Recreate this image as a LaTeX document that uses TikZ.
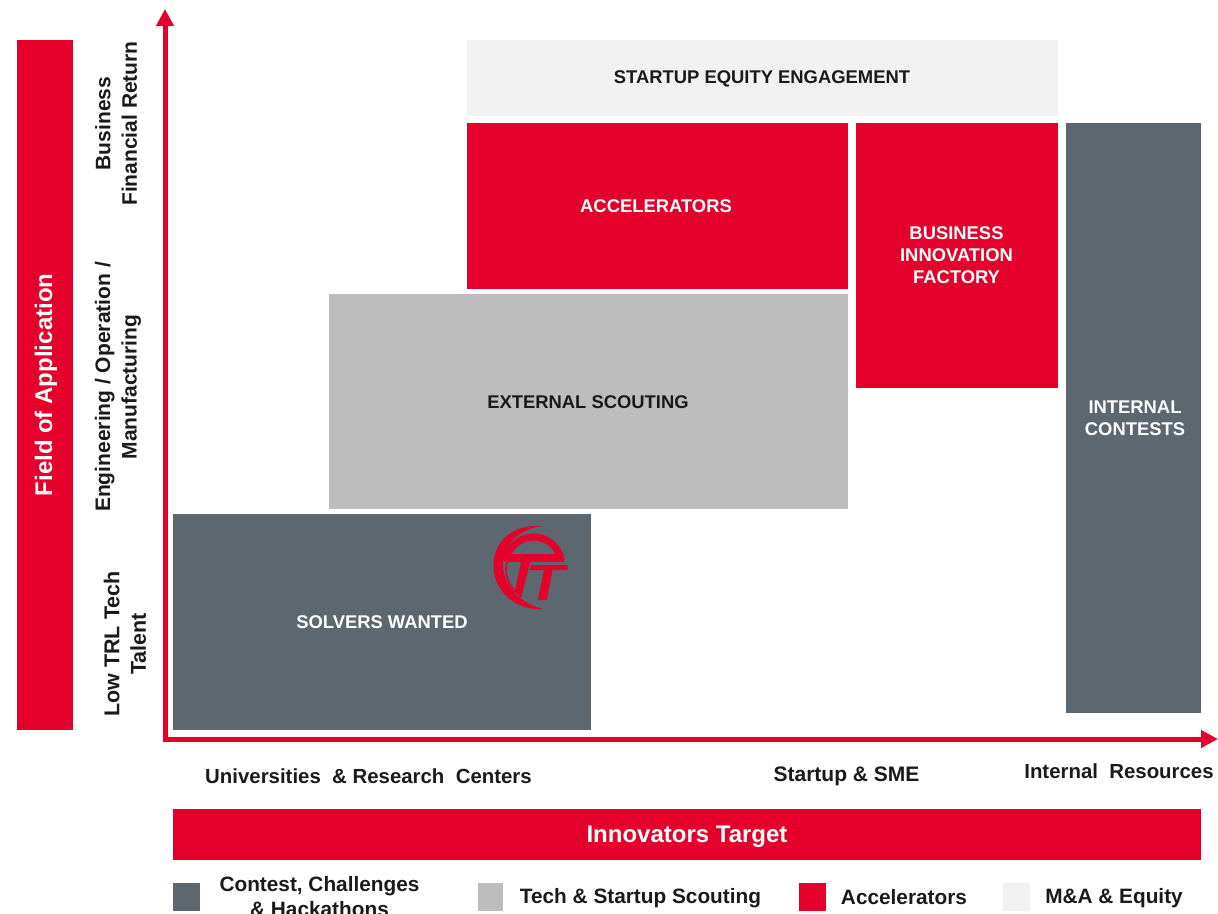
\documentclass[tikz,border=0pt]{standalone}
\usepackage{fontspec}
\setmainfont{Liberation Sans}
\definecolor{tred}{HTML}{E4002B}
\definecolor{tslate}{HTML}{5C6770}
\definecolor{tgray}{HTML}{BDBDBD}
\definecolor{tlight}{HTML}{F1F1F1}
\definecolor{tink}{HTML}{1A1A1A}
\usetikzlibrary{arrows.meta}
\tikzset{
  blockbox/.style={anchor=north west,inner sep=0pt,outer sep=0pt},
  blocktext/.style={font=\bfseries\fontsize{18.4}{22}\selectfont,inner sep=0pt,align=center},
  bigtext/.style={font=\bfseries\fontsize{24}{28}\selectfont,text=white,inner sep=0pt},
  axislabel/.style={font=\bfseries\fontsize{20.4}{26.5}\selectfont,text=tink,align=center,inner sep=0pt},
  ylabel/.style={font=\bfseries\fontsize{21}{26.5}\selectfont,text=tink,align=center,inner sep=0pt,rotate=90},
  legendlabel/.style={font=\bfseries\fontsize{20.8}{25}\selectfont,text=tink,align=center,inner sep=0pt},
  axisline/.style={draw=tred,line width=5pt,-{Triangle[length=17pt,width=17pt]}},
  swatch/.style={anchor=north west,inner sep=0pt,outer sep=0pt}
}
\begin{document}
\begin{tikzpicture}[x=1pt,y=-1pt]
\clip (0,0) rectangle (1218,913);
\useasboundingbox (0,0) rectangle (1218,913);

\node[blockbox,fill=tred,minimum width=56pt,minimum height=690pt] (field) at (17,40) {};
\node[bigtext,rotate=90] (fieldt) at (46,385) {Field of Application};

\node[blockbox,fill=tlight,minimum width=591pt,minimum height=76pt] (equity) at (467,40) {};
\node[blocktext,text=tink] (equityt) at (762,78.5) {STARTUP EQUITY ENGAGEMENT};
\node[blockbox,fill=tred,minimum width=381pt,minimum height=166pt] (accel) at (467,123) {};
\node[blocktext,text=white] (accelt) at (656,206.5) {ACCELERATORS};
\node[blockbox,fill=tred,minimum width=202pt,minimum height=265pt] (bif) at (856,123) {};
\node[blocktext,text=white] (bift) at (956.5,255) {BUSINESS\\INNOVATION\\FACTORY};
\node[blockbox,fill=tslate,minimum width=135pt,minimum height=590pt] (internal) at (1066,123) {};
\node[blocktext,text=white] (internalt) at (1135,418) {INTERNAL\\CONTESTS};
\node[blockbox,fill=tgray,minimum width=519pt,minimum height=215pt] (scout) at (329,294) {};
\node[blocktext,text=tink] (scoutt) at (588,402.5) {EXTERNAL SCOUTING};
\node[blockbox,fill=tslate,minimum width=418pt,minimum height=216pt] (solvers) at (173,514) {};
\node[blocktext,text=white] (solverst) at (382,622.5) {SOLVERS WANTED};

% logo
\begin{scope}
  \fill[tred] (541.5,526) .. controls (512,524) and (493,542) .. (493.5,567)
     .. controls (494,592) and (517,611) .. (543,609)
     .. controls (525,605) and (505,590) .. (503,567)
     .. controls (502,546) and (517,530) .. (541.5,526) -- cycle;
  \draw[tred,line width=7pt] ([shift={(188:28)}]533.5,565) arc[start angle=188,end angle=352,radius=28];
  \draw[tred,line width=1.5pt] (510,553) .. controls (503,567) and (505,582) .. (517,593);
  \fill[tred] (507,554) rectangle (564,561.5);
  \fill[tslate] (531,561.5) rectangle (570,565);
  \fill[tred] (521,561) -- (530.5,561) -- (521,598) -- (515,591) -- cycle;
  \fill[tred] (531,565) -- (567.5,565) -- (567.5,570) -- (529.5,570) -- cycle;
  \fill[tred] (544,569.5) -- (552.7,569.5) -- (546.7,600) -- (538,600) -- cycle;
\end{scope}

% axes
\coordinate (origin) at (165,739);
\coordinate (ytip) at (165,9);
\coordinate (xtip) at (1218,739);
\draw[axisline,line cap=rect] (origin) -- (ytip);
\draw[axisline] (origin) -- (xtip);

% y labels
\node[ylabel] (y1) at (116,123.5) {Business\\Financial  Return};
\node[ylabel] (y2) at (118,387) {Engineering / Operation /\\Manufacturing};
\node[ylabel,font=\bfseries\fontsize{21.5}{26.5}\selectfont] (y3) at (125,644) {Low TRL Tech\\Talent};

% x labels
\node[axislabel] (x1) at (368.5,776) {Universities \ \& Research \ Centers};
\node[axislabel,font=\bfseries\fontsize{21}{26.5}\selectfont] (x2) at (846.5,776) {Startup \& SME};
\node[axislabel] (x3) at (1119,771) {Internal \ Resources};

\node[blockbox,fill=tred,minimum width=1028pt,minimum height=51pt] (target) at (173,809) {};
\node[bigtext] (targett) at (687,836.5) {Innovators Target};

% legend
\node[swatch,fill=tslate,minimum width=27pt,minimum height=28pt] (l1) at (173,883) {};
\node[legendlabel,anchor=north] (l1t) at (319.5,876) {Contest, Challenges\\\& Hackathons};
\node[swatch,fill=tgray,minimum width=25pt,minimum height=28pt] (l2) at (478,883) {};
\node[legendlabel] (l2t) at (640.5,898) {Tech \& Startup Scouting};
\node[swatch,fill=tred,minimum width=27pt,minimum height=28pt] (l3) at (799,883) {};
\node[legendlabel] (l3t) at (904,897) {Accelerators};
\node[swatch,fill=tlight,minimum width=27pt,minimum height=28pt] (l4) at (1003,883) {};
\node[legendlabel] (l4t) at (1114,898) {M\&A \& Equity};
\end{tikzpicture}
\end{document}
